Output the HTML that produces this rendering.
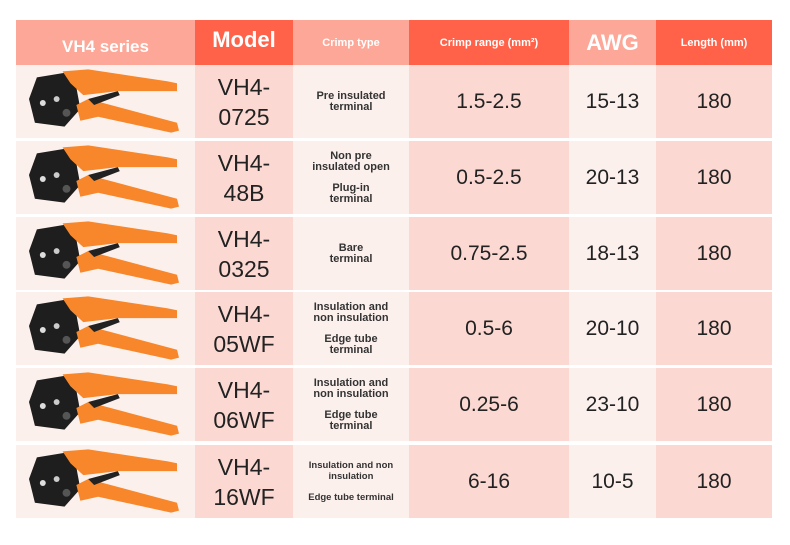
<!DOCTYPE html>
<html><head><meta charset="utf-8"><style>
body{margin:0;width:790px;height:545px;background:#fff;position:relative;overflow:hidden;font-family:"Liberation Sans","DejaVu Sans",sans-serif}
.c{position:absolute;display:flex;align-items:center;justify-content:center;text-align:center;box-sizing:border-box}
.h{top:20px;height:45px;color:#fff;font-weight:bold}
.L{background:#fca797}.D{background:#ff6249}
.a{background:#fcf0ed}.b{background:#fbd9d2}
.m{font-size:23px;color:#222;line-height:30px}
.t{font-size:11px;font-weight:bold;color:#333;line-height:11px;flex-direction:column}
.n{font-size:21px;color:#222}
</style></head><body>
<div class="c h L" style="left:16px;width:179px;font-size:17px;padding-top:8px">VH4 series</div>
<div class="c h D" style="left:195px;width:98px;font-size:22px;padding-bottom:6px">Model</div>
<div class="c h L" style="left:293px;width:116px;font-size:11px">Crimp type</div>
<div class="c h D" style="left:409px;width:160px;font-size:11px">Crimp range (mm²)</div>
<div class="c h L" style="left:569px;width:87px;font-size:22px">AWG</div>
<div class="c h D" style="left:656px;width:116px;font-size:11px">Length (mm)</div>
<svg width="0" height="0" style="position:absolute"><defs><g id="p">
<path d="M0,30 L8,8 L45,2 L52,40 L36,58 L6,54 Z" fill="#1e1e1e"/>
<path d="M34,2 L60,0 L140,12 L150,14 L150,22 L90,22 L55,26 L42,14 Z" fill="#f7872a"/>
<path d="M48,36 L60,30 L150,54 L152,62 L144,64 L70,48 L52,52 Z" fill="#f7872a"/>
<path d="M60,30 L90,22 L92,26 L66,36 Z" fill="#222"/>
<circle cx="14" cy="34" r="3" fill="#ddd"/><circle cx="28" cy="30" r="3" fill="#ccc"/><circle cx="38" cy="44" r="4" fill="#555"/>
</g></defs></svg>
<div id="rows"></div>
<script>
var R=[["0725",["Pre insulated","terminal"],null,"1.5-2.5","15-13"],
["48B",["Non pre","insulated open"],["Plug-in","terminal"],"0.5-2.5","20-13"],
["0325",["Bare","terminal"],null,"0.75-2.5","18-13"],
["05WF",["Insulation and","non insulation"],["Edge tube","terminal"],"0.5-6","20-10"],
["06WF",["Insulation and","non insulation"],["Edge tube","terminal"],"0.25-6","23-10"],
["16WF",["Insulation and non","insulation"],["Edge tube terminal"],"6-16","10-5"]];
var tops=[65,141,217,292,368,445],h="";
R.forEach(function(r,i){var t=tops[i],s="top:"+t+"px;height:73px;";
function tx(a){return "<div>"+a.join("<br>")+"</div>"}
var ct=tx(r[1])+(r[2]?"<div style='margin-top:10px'>"+tx(r[2])+"</div>":"");
h+='<div class="c a" style="'+s+'left:16px;width:179px"><svg width="150" height="66" viewBox="0 0 152 66" style="margin-left:-4px"><use href="#p"/></svg></div>'+
'<div class="c b m" style="'+s+'left:195px;width:98px">VH4-<br>'+r[0]+'</div>'+
'<div class="c a t" style="'+s+'left:293px;width:116px;'+(i==5?'font-size:9.5px':'')+'">'+ct+'</div>'+
'<div class="c b n" style="'+s+'left:409px;width:160px">'+r[3]+'</div>'+
'<div class="c a n" style="'+s+'left:569px;width:87px">'+r[4]+'</div>'+
'<div class="c b n" style="'+s+'left:656px;width:116px">180</div>';});
document.getElementById("rows").innerHTML=h;
</script>
</body></html>
